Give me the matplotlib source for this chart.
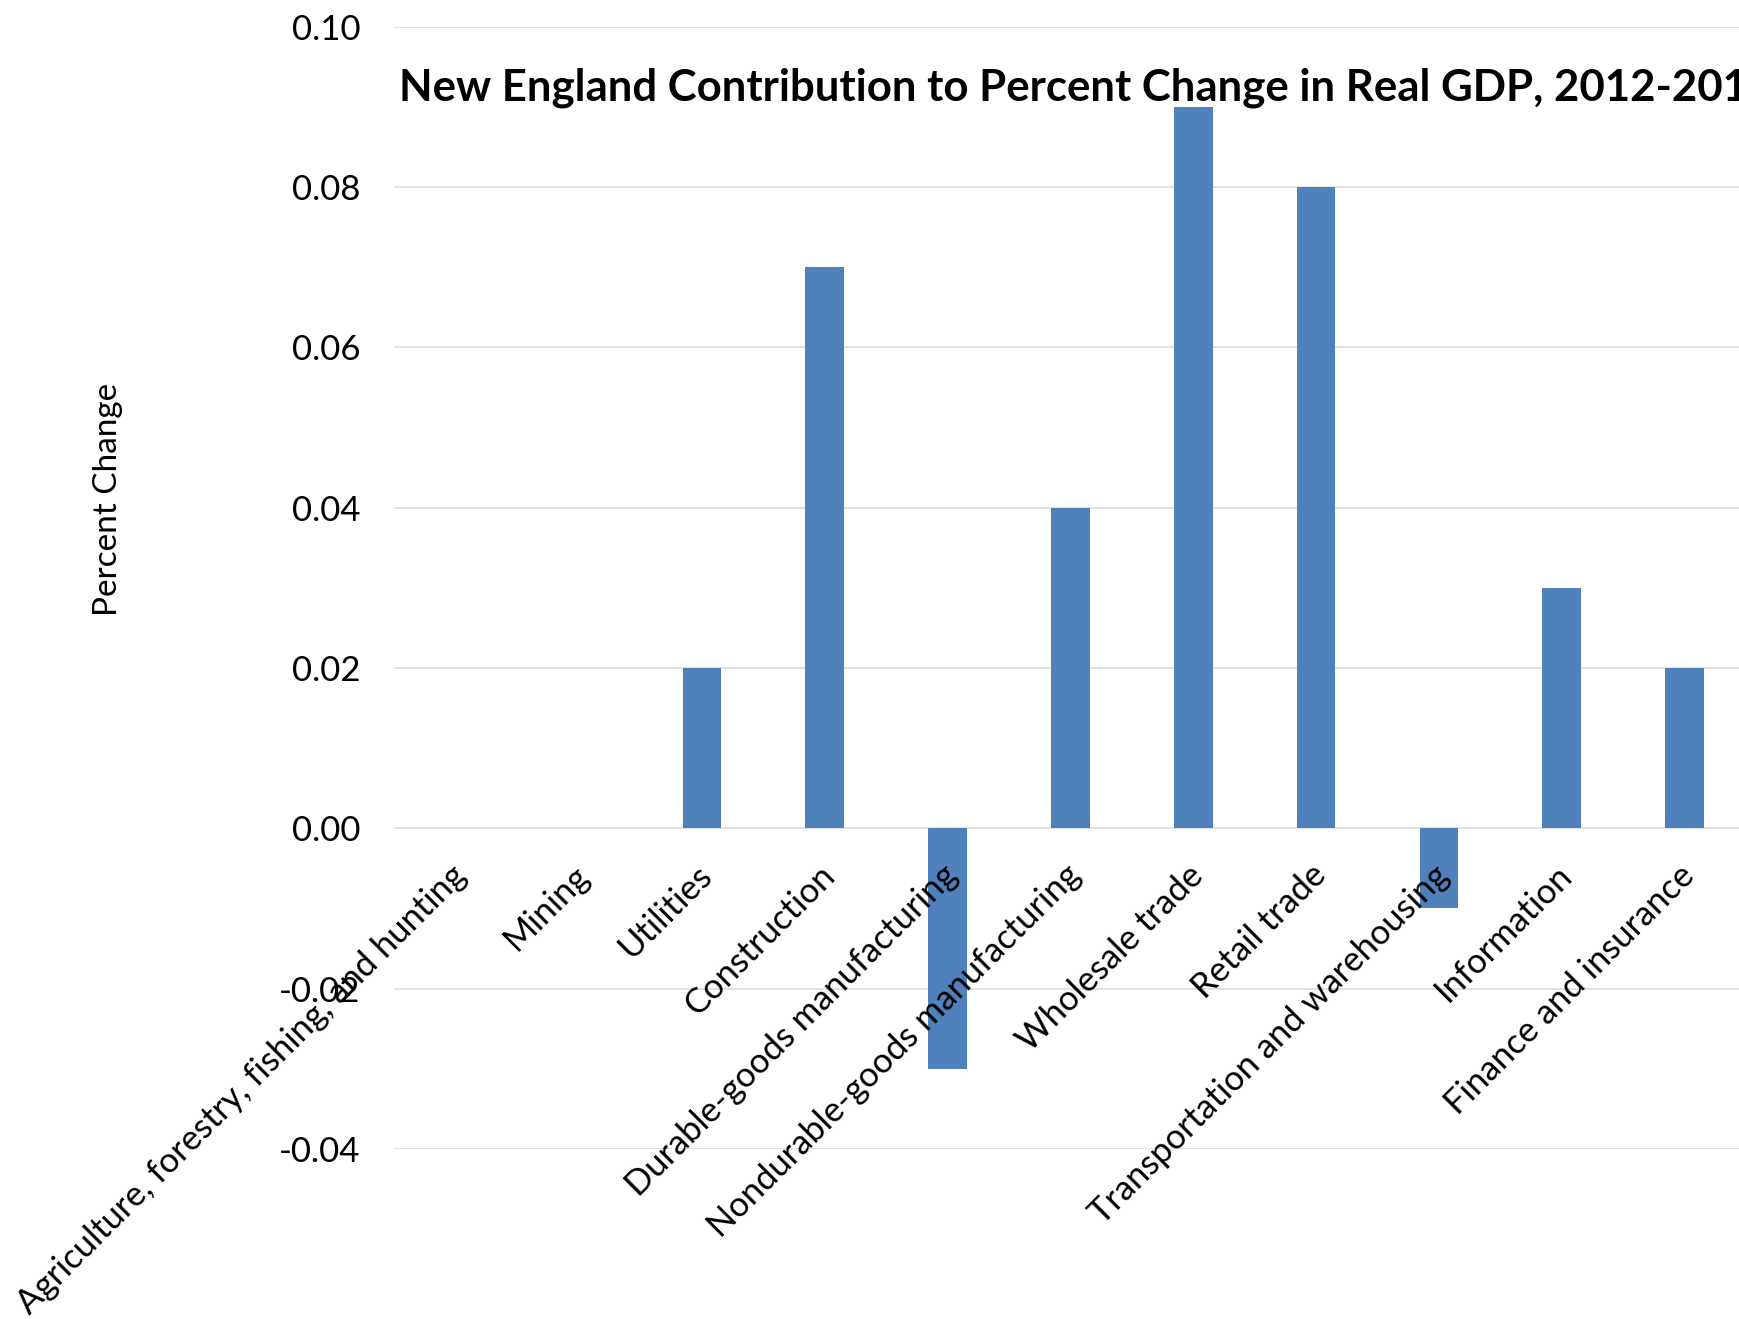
import numpy as np
import matplotlib
matplotlib.use('Agg')
from matplotlib import pyplot as plt
from matplotlib import transforms

plt.rcParams['font.family'] = ['Lato', 'DejaVu Sans']

# industries shown (chart is cut off on the right)
industries = ['Agriculture, forestry, fishing, and hunting', 'Mining', 'Utilities',
              'Construction', 'Durable-goods manufacturing', 'Nondurable-goods manufacturing',
              'Wholesale trade', 'Retail trade', 'Transportation and warehousing',
              'Information', 'Finance and insurance']
contrib = [0.00, 0.00, 0.02, 0.07, -0.03, 0.04, 0.09, 0.08, -0.01, 0.03, 0.02]
yticks = [-0.04, -0.02, 0.00, 0.02, 0.04, 0.06, 0.08, 0.10]

W, H = 1739, 1319
fig = plt.figure(figsize=(W / 100, H / 100), dpi=100)

# plot area runs off the right edge like the reference
left = 393.7 / W
bottom = 1 - 1149 / H
top = 1 - 26.6 / H
ax = fig.add_axes([left, bottom, 1 - left, top - bottom])

x = np.arange(len(industries))
ax.bar(x, contrib, width=0.315, color='#4f81bd', zorder=3)

ax.set_xlim(-0.51, 10.444)
ax.set_ylim(-0.04, 0.10)
ax.set_yticks(yticks)
ax.set_yticklabels(['%.2f' % v for v in yticks], fontsize=25)
ax.yaxis.grid(True, color='#d9d9d9', linewidth=1.1)
ax.tick_params(axis='y', length=0, pad=24)

for s in ['top', 'right', 'left']:
    ax.spines[s].set_visible(False)
ax.spines['bottom'].set_position(('data', 0))
ax.spines['bottom'].set_visible(False)

ax.set_xticks(x)
ax.set_xticklabels(industries, fontsize=24.8, rotation=45, ha='right', va='top',
                   rotation_mode='anchor')
ax.tick_params(axis='x', length=0, pad=22)
shift = transforms.ScaledTranslation(-4.5 / 72, 0, fig.dpi_scale_trans)
for lab in ax.get_xticklabels():
    lab.set_transform(lab.get_transform() + shift)

# grid stays under the bars, category labels go on top of them
ax.yaxis.set_zorder(1)
ax.xaxis.set_zorder(5)

fig.text(107.6 / W, 1 - 499 / H, 'Percent Change', rotation=90, fontsize=24,
         ha='center', va='center')
fig.text(399 / W, 1 - 100 / H,
         'New England Contribution to Percent Change in Real GDP, 2012-2013',
         fontsize=31.5, fontweight='bold', ha='left', va='baseline')

plt.savefig('out.png', dpi=100)
